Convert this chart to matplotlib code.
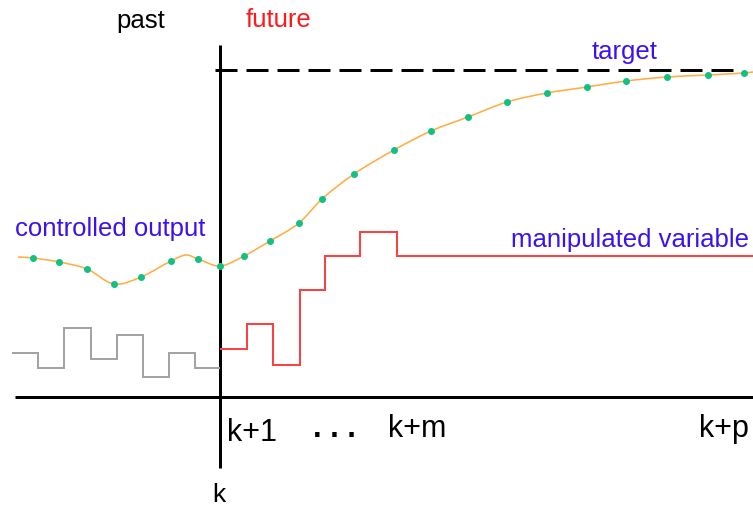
import matplotlib
matplotlib.use("Agg")
import matplotlib.pyplot as plt
from matplotlib.path import Path
from matplotlib.patches import PathPatch

plt.rcParams['lines.scale_dashes'] = False

# ---- data (schematic units: horizontal = time, vertical = value, screen-like) ----
# controlled output: smooth curve knots and sampled dots
curve_t = [18, 33, 59, 87, 114, 141, 171, 186, 198, 220, 244, 270, 299, 322, 354,
           394, 431, 468, 507, 547, 587, 626, 667, 708, 744, 753]
curve_y = [257, 258, 262, 269, 284, 277, 261, 255, 259, 266, 256, 241, 223, 199, 174,
           150, 131, 117, 102, 93, 87, 81, 77, 75, 73, 72]
dot_t = [33, 59, 87, 114, 141, 171, 198, 220, 244, 270, 299, 322, 354,
         394, 431, 468, 507, 547, 587, 626, 667, 708, 744]
dot_y = [258, 262, 269, 284, 277, 261, 259, 266, 256, 241, 223, 199, 174,
         150, 131, 117, 102, 93, 87, 81, 77, 75, 73]

# past manipulated variable (gray stairs)
past_edges = [12, 38, 64, 91, 117, 143, 169, 195, 220]
past_mv = [353, 368, 328, 359, 335, 377, 353, 368]
# future manipulated variable (red stairs)
fut_edges = [220, 247, 273, 300, 325, 360, 397, 753]
fut_mv = [349, 324, 365, 290, 256, 232, 256]

target_level = 70
target_span = [215, 735]
k_time = 220
time_axis_level = 397

labels_top = ["past", "future"]
tick_labels = ["k+1", ". . .", "k+m", "k+p"]

# ---- figure ----
fig = plt.figure(figsize=(7.53, 5.08), dpi=100)
ax = fig.add_axes([0, 0, 1, 1])
ax.set_xlim(0, 753)
ax.set_ylim(508, 0)
ax.axis('off')

px = 72 / 100.0  # points per pixel

# axes
ax.plot([15, 753], [time_axis_level, time_axis_level], color='black', lw=3 * px,
        zorder=2, solid_capstyle='butt')
ax.plot([k_time, k_time], [45, 468], color='black', lw=3 * px, zorder=2,
        solid_capstyle='butt')
# target
ax.plot(target_span, [target_level, target_level], color='black', lw=3 * px,
        dashes=(22 * px, 9 * px), zorder=2)

# stairs
ax.stairs(past_mv, past_edges, baseline=None, color='#a3a3a3', lw=2 * px, zorder=3)
ax.stairs(fut_mv, fut_edges, baseline=None, color='#ff4040', lw=2 * px, zorder=3)

# smooth controlled output (cubic Hermite in t, drawn as Bezier path)
n = len(curve_t)
slopes = []
for i in range(n):
    a = max(i - 1, 0)
    b = min(i + 1, n - 1)
    slopes.append((curve_y[b] - curve_y[a]) / (curve_t[b] - curve_t[a]))
verts = [(curve_t[0], curve_y[0])]
codes = [Path.MOVETO]
for i in range(n - 1):
    h = curve_t[i + 1] - curve_t[i]
    c1 = (curve_t[i] + h / 3, curve_y[i] + slopes[i] * h / 3)
    c2 = (curve_t[i + 1] - h / 3, curve_y[i + 1] - slopes[i + 1] * h / 3)
    verts += [c1, c2, (curve_t[i + 1], curve_y[i + 1])]
    codes += [Path.CURVE4] * 3
ax.add_patch(PathPatch(Path(verts, codes), facecolor='none', edgecolor='#ffad45',
                       lw=1.6 * px, zorder=4))
ax.plot(dot_t, dot_y, linestyle='none', marker='o', ms=7 * px, color='#12c084',
        markeredgewidth=0, zorder=5)

# texts
fam = ['Liberation Sans', 'DejaVu Sans']
ax.text(141, 28, labels_top[0], color='black', fontsize=18.5, family=fam, ha='center', va='baseline')
ax.text(279, 27, labels_top[1], color='#ff1a1a', fontsize=18.5, family=fam, ha='center', va='baseline')
ax.text(625, 59, "target", color='#3a12f2', fontsize=18.5, family=fam, ha='center', va='baseline')
ax.text(110, 236, "controlled output", color='#3a12f2', fontsize=18.5, family=fam, ha='center', va='baseline')
ax.text(630, 247, "manipulated variable", color='#3a12f2', fontsize=18.5, family=fam, ha='center', va='baseline')

ax.text(252, 441, tick_labels[0], color='black', fontsize=22, family=fam, ha='center', va='baseline')
ax.text(334, 437, tick_labels[1], color='black', fontsize=22, family=fam, ha='center', va='baseline', fontweight='bold')
ax.text(417, 437, tick_labels[2], color='black', fontsize=22, family=fam, ha='center', va='baseline')
ax.text(724, 437, tick_labels[3], color='black', fontsize=22, family=fam, ha='center', va='baseline')
ax.text(219, 502, "k", color='black', fontsize=19, family=fam, ha='center', va='baseline')

fig.savefig('out.png', dpi=100)
